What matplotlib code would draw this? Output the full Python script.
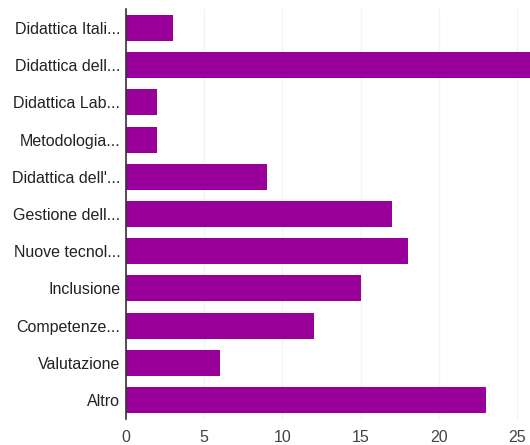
import matplotlib
matplotlib.use("Agg")
import matplotlib.pyplot as plt

categories = ["Didattica Itali...", "Didattica dell...", "Didattica Lab...", "Metodologia...",
              "Didattica dell'...", "Gestione dell...", "Nuove tecnol...", "Inclusione",
              "Competenze...", "Valutazione", "Altro"]
values = [3, 26, 2, 2, 9, 17, 18, 15, 12, 6, 23]
xticks = [0, 5, 10, 15, 20, 25]

plt.rcParams['font.family'] = ['Liberation Sans', 'DejaVu Sans']

fig = plt.figure(figsize=(5.3, 4.45), dpi=100)
ax = fig.add_axes([126/530, 1-418.6/445, 404/530, 409.2/445])

ypos = list(range(len(categories)))
ax.barh(ypos, values, height=0.7, color="#990099", zorder=3)
ax.set_ylim(len(categories)-0.5, -0.5)
ax.set_xlim(0, 404/15.64)

ax.set_yticks(ypos)
ax.set_yticklabels(categories, fontsize=11.5, color="#222222")
ax.set_xticks(xticks)
ax.set_xticklabels([str(t) for t in xticks], fontsize=11.5, color="#444444")
ax.tick_params(axis="both", length=0)
ax.tick_params(axis="y", pad=4)
ax.tick_params(axis="x", pad=8)

ax.grid(axis="x", color="#f4f4f4", linewidth=1, zorder=0)
for s in ["top", "right", "bottom"]:
    ax.spines[s].set_visible(False)
ax.spines["left"].set_color("#333333")
ax.spines["left"].set_linewidth(1.2)
ax.spines["left"].set_zorder(4)

fig.savefig("out.png", dpi=100)
